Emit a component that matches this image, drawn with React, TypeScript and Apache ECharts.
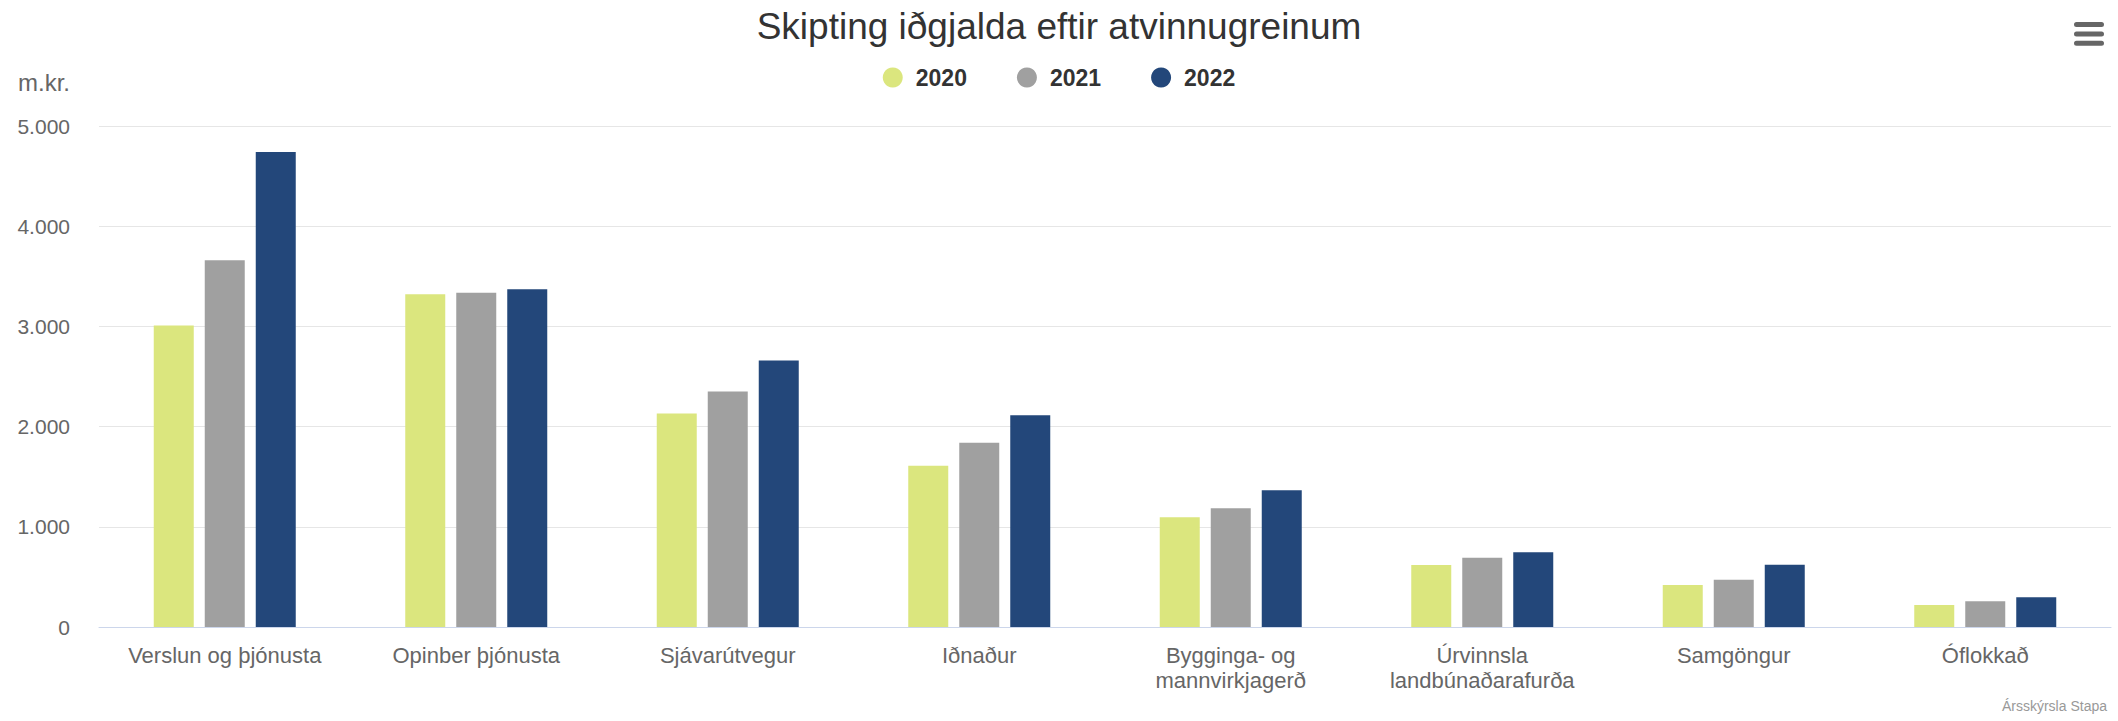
import React, { useEffect, useRef } from "react";
import * as echarts from "echarts";

const categories = [
  "Verslun og þjónusta",
  "Opinber þjónusta",
  "Sjávarútvegur",
  "Iðnaður",
  "Bygginga- og\nmannvirkjagerð",
  "Úrvinnsla\nlandbúnaðarafurða",
  "Samgöngur",
  "Óflokkað",
];
const seriesNames = ["2020", "2021", "2022"];
const values2020 = [3010, 3320, 2130, 1610, 1095, 620, 420, 220];
const values2021 = [3660, 3335, 2350, 1840, 1185, 690, 472, 257];
const values2022 = [4740, 3370, 2660, 2113, 1365, 745, 622, 297];
const seriesColors = ["#dbe67e", "#a0a0a0", "#23477a"];
const titleText = "Skipting iðgjalda eftir atvinnugreinum";
const yAxisName = "m.kr.";
const creditText = "Ársskýrsla Stapa";

const FONT = "'Liberation Sans', Arial, sans-serif";

export default function App() {
  const ref = useRef<HTMLDivElement>(null);
  useEffect(() => {
    if (!ref.current) return;
    const chart = echarts.init(ref.current, undefined, { renderer: "svg" });
    const allValues = [values2020, values2021, values2022];
    chart.setOption({
      animation: false,
      backgroundColor: "#ffffff",
      textStyle: { fontFamily: FONT },
      title: {
        text: titleText,
        left: "center",
        top: 8,
        padding: 0,
        textStyle: { fontFamily: FONT, fontSize: 37, fontWeight: "normal", color: "#333333" },
      },
      legend: {
        top: 66,
        left: "center",
        padding: 0,
        itemGap: 50,
        itemWidth: 20,
        itemHeight: 20,
        icon: "circle",
        data: seriesNames,
        textStyle: {
          fontFamily: FONT,
          fontSize: 23,
          fontWeight: "bold",
          color: "#333333",
          padding: [0, 0, 0, 8],
        },
      },
      grid: { left: 99, right: 7, top: 126, bottom: 94, containLabel: false },
      xAxis: {
        type: "category",
        data: categories,
        axisLine: { lineStyle: { color: "#ccd6eb", width: 1 } },
        axisTick: { show: false },
        axisLabel: {
          interval: 0,
          margin: 16,
          fontFamily: FONT,
          fontSize: 22,
          lineHeight: 25,
          color: "#666666",
        },
      },
      yAxis: {
        type: "value",
        min: 0,
        max: 5000,
        interval: 1000,
        name: yAxisName,
        nameLocation: "end",
        nameGap: 44,
        nameTextStyle: {
          fontFamily: FONT,
          fontSize: 24,
          color: "#666666",
          align: "right",
          verticalAlign: "middle",
          padding: [0, 29, 0, 0],
        },
        axisLine: { show: false },
        axisTick: { show: false },
        splitLine: { lineStyle: { color: "#e6e6e6", width: 1 } },
        axisLabel: {
          margin: 29,
          fontFamily: FONT,
          fontSize: 21,
          color: "#666666",
          formatter: (v: number) =>
            String(v).replace(/\B(?=(\d{3})+(?!\d))/g, "."),
        },
      },
      series: seriesNames.map((name, i) => ({
        name,
        type: "bar",
        data: allValues[i],
        barWidth: 40,
        barGap: "27.5%",
        itemStyle: { color: seriesColors[i] },
      })),
      graphic: [
        {
          type: "text",
          x: 2107,
          y: 706,
          style: {
            text: creditText,
            fontFamily: FONT,
            fontSize: 14,
            fill: "#999999",
            textAlign: "right",
            textVerticalAlign: "middle",
          },
        },
        {
          type: "group",
          x: 2074,
          y: 22,
          children: [0, 1, 2].map((k) => ({
            type: "rect",
            shape: { x: 0, y: k * 9.4, width: 30, height: 5, r: 2.5 },
            style: { fill: "#666666" },
          })),
        },
      ],
    });
    return () => chart.dispose();
  }, []);
  return (
    <div
      ref={ref}
      style={{ position: "fixed", left: 0, top: 0, width: 2118, height: 721 }}
    />
  );
}
